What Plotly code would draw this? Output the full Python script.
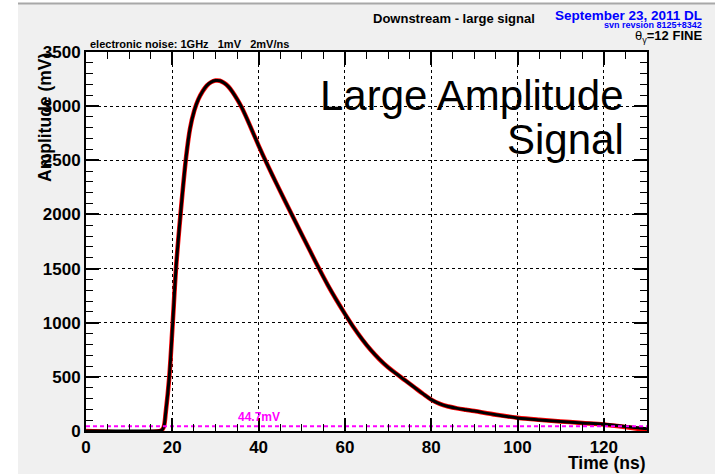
import plotly.graph_objects as go

# ---------------- data ----------------
time_ns = [0, 5, 10, 15, 17, 17.5, 18.0, 18.5, 19.3, 20.1, 20.85, 21.9, 23.2, 24.1,
           25.1, 26, 27, 28, 29, 30, 31, 32, 33, 34, 35, 36, 37, 38, 39, 40, 41, 42, 44, 46,
           48, 50, 52, 54, 56, 58, 60, 62, 64, 66, 68, 70, 72, 74, 76, 78, 80,
           82, 84, 86, 88, 90, 95, 100, 105, 110, 115, 120, 125, 130]
amp_data = [0, 0, 0, 0, 2, 6, 35, 180, 500, 1000, 1500, 2000, 2530, 2790,
            2960, 3060, 3135, 3190, 3222, 3236, 3234, 3214, 3180, 3128, 3065, 2995, 2910, 2820, 2728, 2636, 2548, 2462, 2296, 2134,
            1974, 1815, 1657, 1500, 1350, 1212, 1082, 958, 847, 748, 662, 588, 526, 466, 406, 346, 290,
            250, 226, 209, 196, 184, 150, 121, 102, 87, 75, 63, 42, 20]
amp_fit = [0, -8, -18, -10, -2, 6, 35, 180, 500, 1000, 1500, 2000, 2530, 2790,
           2960, 3060, 3135, 3190, 3222, 3236, 3234, 3214, 3180, 3128, 3065, 2995, 2910, 2820, 2728, 2636, 2548, 2462, 2296, 2134,
           1974, 1815, 1657, 1500, 1350, 1212, 1082, 958, 847, 748, 662, 588, 526, 466, 406, 346, 290,
           250, 226, 209, 196, 184, 150, 123, 104, 88, 74, 60, 36, 8]
noise_level = 44.7
x_range = [0, 130]
y_range = [0, 3500]
x_ticks = [0, 20, 40, 60, 80, 100, 120]
y_ticks = [0, 500, 1000, 1500, 2000, 2500, 3000, 3500]

# ---------------- layout helpers ----------------
W, H = 715, 474
L, R, T, B = 86, 647, 52, 431


def px(xp):
    return (xp - L) / (R - L)


def py(yp):
    return (B - yp) / (B - T)


FONT = "Liberation Sans, Arial, Helvetica, sans-serif"

fig = go.Figure()

fig.add_trace(go.Scatter(x=time_ns, y=amp_fit, mode="lines",
                         line=dict(color="#ff0000", width=4.5, shape="spline", smoothing=1.0),
                         showlegend=False, hoverinfo="skip"))
fig.add_trace(go.Scatter(x=time_ns, y=amp_data, mode="lines",
                         line=dict(color="#000000", width=3, shape="spline", smoothing=1.0),
                         showlegend=False))
fig.add_trace(go.Scatter(x=x_range, y=[noise_level, noise_level], mode="lines",
                         line=dict(color="#ff00ff", width=2, dash="4px,3px"),
                         showlegend=False, hoverinfo="skip"))

axis_common = dict(
    showline=True, linecolor="black", linewidth=2, mirror="ticks",
    ticks="inside", ticklen=13, tickwidth=1.5, tickcolor="black",
    showgrid=True, gridcolor="black", gridwidth=1, griddash="dot",
    zeroline=False,
    tickfont=dict(family=FONT, size=17, color="black"),
)

fig.update_xaxes(range=x_range, tickvals=x_ticks, ticktext=[f"<b>{v}</b>" for v in x_ticks],
                 minor=dict(dtick=5, ticks="inside", ticklen=7, tickwidth=1.2,
                            tickcolor="black", showgrid=False),
                 **axis_common)
fig.update_yaxes(range=y_range, tickvals=y_ticks, ticktext=[f"<b>{v}</b>" for v in y_ticks],
                 minor=dict(dtick=100, ticks="inside", ticklen=7, tickwidth=1.2,
                            tickcolor="black", showgrid=False),
                 **axis_common)

BLUE = "#0000ff"
ann = []
# title and header texts
ann.append(dict(x=px(454), y=py(18), text="<b>Downstream - large signal</b>",
                font=dict(family=FONT, size=13, color="black")))
ann.append(dict(x=px(704), y=py(15), xanchor="right", text="<b>September 23, 2011 DL</b>",
                font=dict(family=FONT, size=13.5, color=BLUE)))
ann.append(dict(x=px(704), y=py(25.5), xanchor="right", text="<b>svn revsion 8125+8342</b>",
                font=dict(family=FONT, size=9, color=BLUE)))
ann.append(dict(x=px(704), y=py(36), xanchor="right", text="θ<sub>γ</sub><b>=12 FINE</b>",
                font=dict(family=FONT, size=13, color="black")))
ann.append(dict(x=px(88), y=py(44), xanchor="left",
                text="<b>electronic noise: 1GHz\u00a0\u00a0\u00a01mV\u00a0\u00a0\u00a02mV/ns</b>",
                font=dict(family=FONT, size=11, color="black")))
# big label
ann.append(dict(x=px(626), y=py(95), xanchor="right", text="Large Amplitude",
                font=dict(family=FONT, size=42, color="black")))
ann.append(dict(x=px(626), y=py(139), xanchor="right", text="Signal",
                font=dict(family=FONT, size=42, color="black")))
# axis titles
ann.append(dict(x=px(647), y=py(463), xanchor="right", text="<b>Time (ns)</b>",
                font=dict(family=FONT, size=17.5, color="black")))
ann.append(dict(x=px(45), y=py(118), textangle=-90, text="<b>Amplitude (mV)</b>",
                font=dict(family=FONT, size=17.5, color="black")))
# noise label
ann.append(dict(x=40, y=noise_level, xref="x", yref="y", yanchor="bottom", yshift=0,
                text="<b>44.7mV</b>", font=dict(family=FONT, size=12, color="#ff00ff")))

for a in ann:
    a.setdefault("xref", "paper")
    a.setdefault("yref", "paper")
    a.setdefault("xanchor", "center")
    a.setdefault("yanchor", "middle")
    a["showarrow"] = False

shapes = [
    # white strip on the left of the canvas and thin frame line on top
    dict(type="rect", xref="paper", yref="paper", x0=px(0), x1=px(18), y0=py(474), y1=py(0),
         fillcolor="white", line=dict(width=0), layer="below"),
    dict(type="rect", xref="paper", yref="paper", x0=px(18), x1=px(715), y0=py(4), y1=py(0),
         fillcolor="white", line=dict(width=0), layer="below"),
    dict(type="line", xref="paper", yref="paper", x0=px(18), x1=px(715), y0=py(3.5), y1=py(3.5),
         line=dict(color="#a8a8a8", width=2), layer="below"),
]

fig.update_layout(
    width=W, height=H,
    margin=dict(l=L, r=W - R, t=T, b=H - B),
    paper_bgcolor="#f0f0f0", plot_bgcolor="white",
    annotations=ann, shapes=shapes,
    font=dict(family=FONT),
    showlegend=False,
)

fig.write_html("out.html")
